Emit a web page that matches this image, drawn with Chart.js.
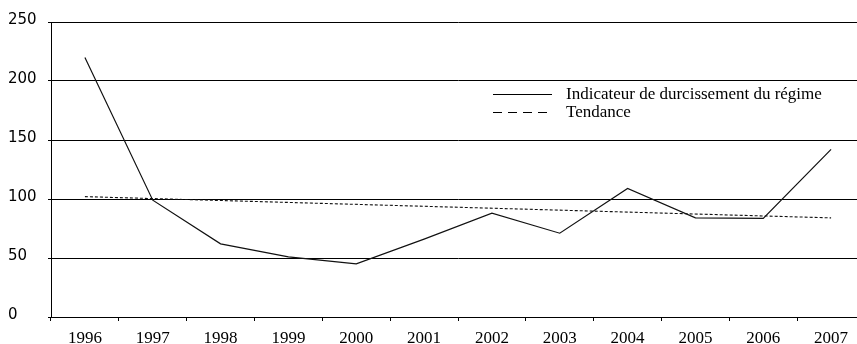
<!DOCTYPE html>
<html lang="fr">
<head>
<meta charset="utf-8">
<title>Indicateur de durcissement du régime</title>
<script src="https://cdn.jsdelivr.net/npm/chart.js@4.4.1/dist/chart.umd.min.js"></script>
<style>
    html, body { margin: 0; padding: 0; background: #fff; overflow: hidden; }
    #wrap { position: absolute; left: 0; top: 0; width: 880px; height: 344px; }
</style>
</head>
<body>
<div id="wrap"><canvas id="chart" width="880" height="344"></canvas></div>
<script>
// --- DONNÉES ---
const years = ['1996', '1997', '1998', '1999', '2000', '2001', '2002', '2003', '2004', '2005', '2006', '2007'];
const indicateur = [220, 99, 62, 51, 45, 66, 88, 71, 109, 84, 83.5, 142];
// tendance : seulement les extrémités, la ligne droite relie les deux
const tendance = [102, null, null, null, null, null, null, null, null, null, null, 84];
const yTicks = [0, 50, 100, 150, 200, 250];

const legendItems = [
    { label: 'Indicateur de durcissement du régime', dash: [] },
    { label: 'Tendance', dash: [9, 6] }
];

// légende dessinée à la main, dans le coin droit du graphique
const legendPlugin = {
    id: 'legendeManuelle',
    afterDraw(chart) {
        const ctx = chart.ctx;
        ctx.save();
        ctx.font = "17px 'Liberation Serif', serif";
        ctx.fillStyle = '#000';
        ctx.strokeStyle = '#000';
        ctx.lineWidth = 1.2;
        ctx.textBaseline = 'middle';
        legendItems.forEach((item, i) => {
            const y = 94.5 + i * 18;
            ctx.setLineDash(item.dash);
            ctx.beginPath();
            ctx.moveTo(493, y);
            ctx.lineTo(552, y);
            ctx.stroke();
            ctx.fillText(item.label, 566, y);
        });
        ctx.restore();
    }
};

new Chart(document.getElementById('chart'), {
    type: 'line',
    data: {
        labels: years,
        datasets: [
            {
                label: 'Indicateur de durcissement du régime',
                data: indicateur,
                borderColor: '#111',
                borderWidth: 1.2,
                pointRadius: 0,
                tension: 0,
                fill: false
            },
            {
                label: 'Tendance',
                data: tendance,
                borderColor: '#111',
                borderWidth: 1.1,
                borderDash: [3, 2],
                pointRadius: 0,
                spanGaps: true,
                fill: false
            }
        ]
    },
    options: {
        responsive: false,
        animation: false,
        layout: { padding: { left: 8, top: 22, right: 15, bottom: 0 } },
        plugins: {
            legend: { display: false },
            tooltip: { enabled: false }
        },
        scales: {
            x: {
                offset: true,
                grid: {
                    offset: true,
                    drawOnChartArea: false,
                    drawTicks: true,
                    tickLength: 4,
                    color: '#000'
                },
                border: { display: true, color: '#000', width: 1 },
                ticks: {
                    color: '#000',
                    padding: 7,
                    maxRotation: 0,
                    font: { family: "'Liberation Serif', serif", size: 17 }
                },
                afterFit(scale) { scale.height = 27; }
            },
            y: {
                min: 0,
                max: 250,
                afterBuildTicks(scale) { scale.ticks = yTicks.map(v => ({ value: v })); },
                grid: {
                    color: '#000',
                    lineWidth: 1,
                    drawTicks: true,
                    tickLength: 3
                },
                border: { display: true, color: '#000', width: 1 },
                ticks: {
                    color: '#000',
                    crossAlign: 'far',
                    labelOffset: -2,
                    font: { family: "'DejaVu Sans', sans-serif", size: 15 }
                },
                afterFit(scale) { scale.width = 43; }
            }
        }
    },
    plugins: [legendPlugin]
});
</script>
</body>
</html>
